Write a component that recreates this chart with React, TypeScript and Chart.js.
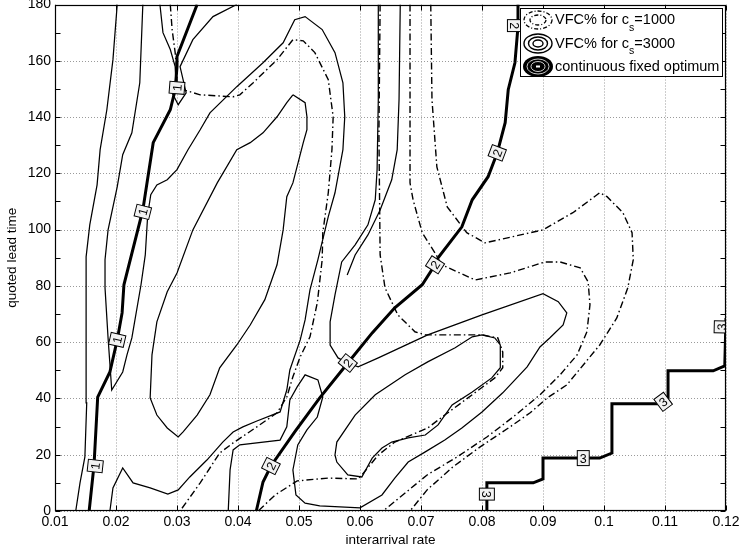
import React, { useEffect, useRef } from 'react';
import { Chart, registerables } from 'chart.js';

Chart.register(...registerables);

// ---------- axes ----------
const xTickValues = [0.01, 0.02, 0.03, 0.04, 0.05, 0.06, 0.07, 0.08, 0.09, 0.1, 0.11, 0.12];
const yTickValues = [0, 20, 40, 60, 80, 100, 120, 140, 160, 180];
const yMinorTickValues = [10, 30, 50, 70, 90, 110, 130, 150, 170];
const xTitle = 'interarrival rate';
const yTitle = 'quoted lead time';

// ---------- VFC% for cs=3000 (solid contours) ----------
const vfc3000Left = [
  [0.0134, 0], [0.0141, 10], [0.0149, 19.2], [0.0152, 38.4], [0.0151, 57.2], [0.0151, 90.3],
  [0.0157, 101.7], [0.0169, 115.9], [0.0174, 128.4], [0.0185, 142.6], [0.0195, 160.4], [0.0202, 180],
];
const vfc3000Outer = [
  [0.0244, 180], [0.0239, 152.2], [0.0226, 134.4], [0.0211, 126.6], [0.0202, 115.2], [0.0187, 99.9],
  [0.0182, 89.3], [0.0182, 79.3], [0.0187, 61.5], [0.0193, 43], [0.0211, 49.4], [0.0218, 55.5],
  [0.0226, 61.5], [0.0241, 80.4], [0.0248, 91], [0.0252, 105.3], [0.0257, 112.4], [0.0267, 115.9],
  [0.0284, 117.7], [0.03, 121.3], [0.0318, 128.4], [0.0338, 135.5], [0.0354, 141.5], [0.0398, 150.8],
  [0.0441, 159.3], [0.0474, 166.4], [0.0493, 174.6], [0.051, 175.7], [0.0538, 171.1], [0.0559, 162.9],
  [0.0572, 152.2], [0.0575, 140.1], [0.0572, 128.4], [0.0559, 113.1], [0.0548, 104.6], [0.0531, 89.3],
  [0.0518, 78.6], [0.051, 67.9], [0.0502, 60.8], [0.0485, 50.1], [0.048, 43], [0.0469, 35.2],
  [0.0431, 32], [0.0408, 29.9], [0.0392, 28.1], [0.0375, 24.5], [0.0349, 18.1], [0.0321, 12.1],
  [0.0302, 7.5], [0.0285, 6], [0.0256, 8.2], [0.0228, 10], [0.0211, 15.3], [0.0195, 8.2], [0.019, 0],
];
const vfc3000Island = [
  [0.049, 147.9], [0.051, 145.1], [0.0513, 140.1], [0.0513, 135.5], [0.0507, 130.9], [0.049, 116.6],
  [0.048, 111.7], [0.0474, 99.9], [0.0464, 87.5], [0.0444, 75.1], [0.042, 66.1], [0.0398, 59],
  [0.037, 50.9], [0.0354, 41.3], [0.0333, 34.1], [0.031, 28.1], [0.0302, 26.3], [0.0284, 29.5],
  [0.0267, 34.1], [0.0256, 40.2], [0.0259, 55.5], [0.0267, 67.2], [0.0284, 77.9], [0.03, 84.6],
  [0.0326, 99.9], [0.0366, 116.6], [0.0398, 128.4], [0.042, 130.9], [0.0441, 134.4], [0.0464, 140.1],
  [0.048, 145.1], [0.049, 147.9],
];
const vfc3000Narrow = [
  [0.0272, 180], [0.0277, 170], [0.0289, 164], [0.0297, 157.9], [0.0298, 153.3], [0.0292, 148.6],
  [0.0302, 144.4], [0.0315, 148.6], [0.0305, 157.9], [0.0326, 167.5], [0.0359, 175.7], [0.0398, 180],
];
const vfc3000Lower = [
  [0.063, 180], [0.063, 146.2], [0.0628, 121.3], [0.0625, 110.6], [0.0613, 101.7], [0.0592, 94.6],
  [0.057, 88.5], [0.0559, 76.8], [0.0551, 67.2], [0.0551, 59], [0.0564, 54.4], [0.058, 52.6],
  [0.0597, 51.2], [0.063, 54.4], [0.0711, 62.6], [0.08, 69.7], [0.09, 77.2], [0.0925, 74.4],
  [0.0939, 70.4], [0.0933, 66.1], [0.0911, 61.5], [0.0895, 58.3], [0.0874, 51.2], [0.0834, 42],
  [0.08, 35.2], [0.0767, 29.5], [0.0739, 25.2], [0.0707, 21], [0.0679, 17.4], [0.0657, 11.7],
  [0.0636, 5.7], [0.06, 1.1], [0.0534, 1.8], [0.051, 2.8], [0.0495, 5.7], [0.049, 14.6],
  [0.0498, 23.5], [0.0513, 28.8], [0.053, 33.4], [0.0539, 40.5], [0.0531, 46.6], [0.051, 48.4],
  [0.0497, 44.1], [0.0485, 39.5], [0.048, 29.9], [0.0469, 25.2], [0.0403, 23.5], [0.0392, 21.7],
  [0.0387, 14.6], [0.0384, 0],
];
const vfc3000Upper = [
  [0.0666, 180], [0.0664, 146.2], [0.0661, 128.4], [0.0652, 117.7], [0.0633, 107], [0.0613, 98.1],
  [0.0592, 91], [0.0579, 83.9],
];
const vfc3000Core = [
  [0.0559, 19.9], [0.0562, 24.5], [0.0592, 34.1], [0.0625, 41.3], [0.0674, 48.4], [0.0711, 53],
  [0.0756, 58], [0.0784, 61.9], [0.08, 62.6], [0.0821, 61.5], [0.083, 59], [0.083, 50.9],
  [0.0816, 47.3], [0.0784, 42.3], [0.0751, 37.7], [0.0728, 30.6], [0.0707, 27], [0.0679, 26],
  [0.0652, 24.5], [0.0636, 22.4], [0.062, 18.8], [0.0603, 12.1], [0.058, 12.8], [0.0562, 17.4],
  [0.0559, 19.9],
];

// ---------- VFC% for cs=1000 (dash-dot contours) ----------
const vfc1000Inner = [
  [0.0289, 180], [0.0292, 171.1], [0.0297, 162.9], [0.03, 155], [0.03, 150.4], [0.0338, 147.9],
  [0.0392, 147.2], [0.0403, 147.9], [0.0425, 152.2], [0.0464, 160.4], [0.049, 167.5], [0.0507, 167.1],
  [0.0526, 162.9], [0.0548, 153.3], [0.0556, 140.1], [0.0554, 128.4], [0.0548, 113.1], [0.0539, 98.9],
  [0.0538, 89.3], [0.053, 74], [0.0518, 61.9], [0.0502, 54.8], [0.049, 47.7], [0.048, 40.5],
  [0.0464, 34.9], [0.0431, 29.9], [0.0392, 24.2], [0.037, 20.6], [0.0338, 10], [0.0305, 0],
];
const vfc1000Valley = [
  [0.0633, 180], [0.0631, 134.4], [0.0633, 91], [0.0641, 79.3], [0.0662, 69.7], [0.069, 63.7],
  [0.0707, 62.6], [0.08, 62.6], [0.0826, 61.5], [0.0834, 56.5], [0.0834, 50.9], [0.0821, 47.3],
  [0.0777, 40.2], [0.0739, 34.1], [0.0711, 29.5], [0.0657, 24.5], [0.063, 19.9], [0.0603, 12.8],
  [0.0597, 11.4], [0.0548, 11.7], [0.0497, 10.7], [0.0461, 5.7], [0.0433, 0],
];
const vfc1000Middle = [
  [0.0682, 180], [0.0682, 146.2], [0.0682, 116.6], [0.0687, 110.6], [0.0702, 98.9], [0.0723, 91.7],
  [0.0734, 87.5], [0.0789, 82.1], [0.0846, 84.6], [0.0903, 88.5], [0.0928, 88.5], [0.0961, 86.4],
  [0.0974, 81.4], [0.0977, 73.3], [0.0972, 63.7], [0.0956, 55.5], [0.0928, 48.4], [0.0895, 41.3],
  [0.0851, 33.4], [0.0808, 26.3], [0.0759, 19.2], [0.071, 12.8], [0.0674, 6.4], [0.0638, 0],
];
const vfc1000Outer = [
  [0.0716, 180], [0.0718, 146.2], [0.0726, 122.3], [0.0743, 108.1], [0.0775, 98.9], [0.0805, 95.3],
  [0.09, 99.9], [0.0949, 106], [0.0993, 113.1], [0.1005, 111.7], [0.1031, 106], [0.1046, 98.9],
  [0.1048, 89.3], [0.1039, 79.3], [0.1021, 68.6], [0.0993, 59], [0.0966, 51.9], [0.0939, 44.8],
  [0.0907, 40.2], [0.0879, 34.9], [0.0846, 29.9], [0.0797, 22.8], [0.0752, 15.6], [0.071, 7.5],
  [0.0682, 0],
];

// ---------- continuous fixed optimum (thick) ----------
const optimum1 = [
  [0.0156, 0], [0.0164, 16.4], [0.017, 40.5], [0.019, 49.4], [0.0202, 60.8], [0.021, 70.4],
  [0.0213, 80.4], [0.0244, 107], [0.0261, 130.9], [0.0289, 142.6], [0.0297, 149.7], [0.03, 157.9],
  [0.03, 161.5], [0.0333, 180],
];
const optimum2 = [
  [0.043, 0], [0.0441, 10.3], [0.0454, 16], [0.0493, 28.1], [0.0534, 40.2], [0.058, 52.6],
  [0.062, 63.3], [0.0657, 72.2], [0.0702, 80.4], [0.0723, 87.5], [0.0728, 90], [0.0767, 101],
  [0.0784, 110.6], [0.081, 118.8], [0.0825, 127.3], [0.0838, 138], [0.0843, 149.7], [0.0854, 159.3],
  [0.0859, 172.1], [0.0859, 180],
];
const optimum3 = [
  [0.0808, 0], [0.0808, 10], [0.0884, 10], [0.09, 11.4], [0.09, 18.8], [0.0993, 18.8],
  [0.1013, 20.6], [0.1013, 38.1], [0.1092, 38.1], [0.1105, 40.2], [0.1105, 49.8], [0.1179, 49.8],
  [0.1198, 51.6], [0.12, 68.6],
];

// contour labels: [x, y, text]
const contourLabels: [number, number, string][] = [
  [0.0166, 16, '1'], [0.0202, 60.8, '1'], [0.0244, 106.3, '1'], [0.03, 150.4, '1'],
  [0.0454, 16, '2'], [0.058, 52.6, '2'], [0.0723, 87.5, '2'], [0.0825, 127.3, '2'], [0.0854, 172.5, '2'],
  [0.0808, 6, '3'], [0.0966, 18.8, '3'], [0.1097, 38.8, '3'], [0.1193, 65.4, '3'],
];

const legendItems = [
  { pre: 'VFC% for c', sub: 's', post: '=1000', icon: 'dash' },
  { pre: 'VFC% for c', sub: 's', post: '=3000', icon: 'solid' },
  { pre: 'continuous fixed optimum', sub: '', post: '', icon: 'thick' },
];

const FONT = '"Liberation Sans", Arial, Helvetica, sans-serif';
const DASHDOT = [7, 3, 1.5, 3];

function toPts(arr: number[][]) {
  return arr.map(([x, y]) => ({ x, y }));
}

export default function App() {
  const ref = useRef<HTMLCanvasElement | null>(null);

  useEffect(() => {
    if (!ref.current) return;
    const thin = (d: number[][]) => ({
      data: toPts(d), showLine: true, borderColor: '#000', borderWidth: 1.25, pointRadius: 0, tension: 0, fill: false,
    });
    const dashed = (d: number[][]) => ({ ...thin(d), borderDash: DASHDOT, borderWidth: 1.4 });
    const thick = (d: number[][]) => ({ ...thin(d), borderWidth: 3, borderJoinStyle: 'miter' as const });

    const optLines = [optimum1, optimum2, optimum3];

    const decor = {
      id: 'decor',
      beforeDatasetsDraw(chart: any) {
        const { ctx, chartArea: a, scales } = chart;
        ctx.save();
        ctx.strokeStyle = '#9a9a9a';
        ctx.lineWidth = 1;
        ctx.setLineDash([1, 2]);
        xTickValues.forEach((v) => {
          const px = Math.round(scales.x.getPixelForValue(v)) + 0.5;
          ctx.beginPath(); ctx.moveTo(px, a.top); ctx.lineTo(px, a.bottom); ctx.stroke();
        });
        yTickValues.forEach((v) => {
          const py = Math.round(scales.y.getPixelForValue(v)) + 0.5;
          ctx.beginPath(); ctx.moveTo(a.left, py); ctx.lineTo(a.right, py); ctx.stroke();
        });
        ctx.restore();
      },
      afterDatasetsDraw(chart: any) {
        const { ctx, chartArea: a, scales } = chart;
        ctx.save();
        ctx.beginPath(); ctx.rect(a.left, a.top, a.right - a.left, a.bottom - a.top); ctx.clip();
        contourLabels.forEach(([x, y, t]) => {
          const px = scales.x.getPixelForValue(x);
          const py = scales.y.getPixelForValue(y);
          const line = optLines[Number(t) - 1];
          let best = Infinity; let ang = 0;
          for (let i = 0; i < line.length - 1; i++) {
            const x1 = scales.x.getPixelForValue(line[i][0]); const y1 = scales.y.getPixelForValue(line[i][1]);
            const x2 = scales.x.getPixelForValue(line[i + 1][0]); const y2 = scales.y.getPixelForValue(line[i + 1][1]);
            const dx = x2 - x1; const dy = y2 - y1;
            const L = dx * dx + dy * dy || 1;
            let u = ((px - x1) * dx + (py - y1) * dy) / L; u = Math.max(0, Math.min(1, u));
            const qx = x1 + u * dx - px; const qy = y1 + u * dy - py;
            const d = qx * qx + qy * qy;
            if (d < best) { best = d; ang = Math.atan2(dy, dx); }
          }
          if (ang <= -Math.PI / 2 - 1e-6) ang += Math.PI;
          if (ang > Math.PI / 2 + 1e-6) ang -= Math.PI;
          if (Math.abs(ang + Math.PI / 2) < 1e-6) ang = Math.PI / 2;
          ctx.save();
          ctx.translate(px, py);
          ctx.rotate(ang);
          ctx.font = `12.5px ${FONT}`;
          const w = ctx.measureText(t).width + 5;
          const h = 15;
          ctx.fillStyle = '#f2f2f2';
          ctx.fillRect(-w / 2, -h / 2, w, h);
          ctx.strokeStyle = '#000'; ctx.lineWidth = 1; ctx.setLineDash([]);
          ctx.strokeRect(-w / 2, -h / 2, w, h);
          ctx.fillStyle = '#000'; ctx.textAlign = 'center'; ctx.textBaseline = 'middle';
          ctx.fillText(t, 0, 1);
          ctx.restore();
        });
        ctx.restore();
      },
      afterDraw(chart: any) {
        const { ctx, chartArea: a, scales } = chart;
        ctx.save();
        ctx.strokeStyle = '#000'; ctx.lineWidth = 1; ctx.setLineDash([]);
        const L = Math.round(a.left) + 0.5, R = Math.round(a.right) - 0.5;
        const T = Math.round(a.top) + 0.5, B = Math.round(a.bottom) - 0.5;
        xTickValues.forEach((v) => {
          const px = Math.round(scales.x.getPixelForValue(v)) + 0.5;
          ctx.beginPath(); ctx.moveTo(px, B); ctx.lineTo(px, B - 5); ctx.moveTo(px, T); ctx.lineTo(px, T + 5); ctx.stroke();
        });
        [...yTickValues, ...yMinorTickValues].forEach((v) => {
          const py = Math.round(scales.y.getPixelForValue(v)) + 0.5;
          ctx.beginPath(); ctx.moveTo(L, py); ctx.lineTo(L + 5, py); ctx.moveTo(R, py); ctx.lineTo(R - 5, py); ctx.stroke();
        });
        ctx.lineWidth = 1.2;
        ctx.strokeRect(L, T, R - L, B - T);

        // axis titles
        ctx.fillStyle = '#000';
        ctx.font = `13.5px ${FONT}`;
        ctx.textAlign = 'center'; ctx.textBaseline = 'middle';
        ctx.fillText(xTitle, (a.left + a.right) / 2, 540);
        ctx.save();
        ctx.translate(12, (a.top + a.bottom) / 2);
        ctx.rotate(-Math.PI / 2);
        ctx.fillText(yTitle, 0, 0);
        ctx.restore();

        // legend
        const lx = 520.5, ly = 8.5, lw = 202, lh = 68;
        ctx.fillStyle = '#fff';
        ctx.fillRect(lx, ly, lw, lh);
        ctx.strokeStyle = '#000'; ctx.lineWidth = 1;
        ctx.strokeRect(lx, ly, lw, lh);
        const rows = [20, 43.5, 66.5];
        legendItems.forEach((it, i) => {
          const cy = rows[i];
          const cx = 538;
          ctx.save();
          if (it.icon === 'dash') {
            ctx.setLineDash([4, 2, 1, 2]); ctx.lineWidth = 1.3; ctx.strokeStyle = '#000';
            [[14, 9], [8, 5]].forEach(([rx, ry]) => { ctx.beginPath(); ctx.ellipse(cx, cy, rx, ry, 0, 0, Math.PI * 2); ctx.stroke(); });
          } else if (it.icon === 'solid') {
            ctx.lineWidth = 1.4; ctx.strokeStyle = '#000';
            [[14, 9.5], [9.5, 6.5], [5, 3.5]].forEach(([rx, ry]) => { ctx.beginPath(); ctx.ellipse(cx, cy, rx, ry, 0, 0, Math.PI * 2); ctx.stroke(); });
          } else {
            ctx.fillStyle = '#000';
            ctx.beginPath(); ctx.ellipse(cx, cy, 15, 10.5, 0, 0, Math.PI * 2); ctx.fill();
            ctx.strokeStyle = '#fff'; ctx.lineWidth = 0.8;
            [[11, 7.5], [7, 5]].forEach(([rx, ry]) => { ctx.beginPath(); ctx.ellipse(cx, cy, rx, ry, 0, 0, Math.PI * 2); ctx.stroke(); });
            ctx.fillStyle = '#fff'; ctx.fillRect(cx - 2, cy - 1, 4, 2);
          }
          ctx.restore();
          ctx.fillStyle = '#000'; ctx.textAlign = 'left'; ctx.textBaseline = 'middle';
          ctx.font = `14.5px ${FONT}`;
          let tx = 555;
          ctx.fillText(it.pre, tx, cy);
          tx += ctx.measureText(it.pre).width;
          if (it.sub) {
            ctx.font = `10.5px ${FONT}`;
            ctx.fillText(it.sub, tx, cy + 8);
            tx += ctx.measureText(it.sub).width;
            ctx.font = `14.5px ${FONT}`;
            ctx.fillText(it.post, tx, cy);
          }
        });
        ctx.restore();
      },
    };

    const chart = new Chart(ref.current, {
      type: 'scatter',
      data: {
        datasets: [
          thin(vfc3000Left), thin(vfc3000Outer), thin(vfc3000Island), thin(vfc3000Narrow),
          thin(vfc3000Lower), thin(vfc3000Upper), thin(vfc3000Core),
          dashed(vfc1000Inner), dashed(vfc1000Valley), dashed(vfc1000Middle), dashed(vfc1000Outer),
          thick(optimum1), thick(optimum2), thick(optimum3),
        ] as any,
      },
      options: {
        animation: false,
        responsive: false,
        devicePixelRatio: 1,
        layout: { padding: { top: 4.5, right: 15, left: 0, bottom: 0 } },
        plugins: { legend: { display: false }, tooltip: { enabled: false } },
        events: [],
        scales: {
          x: {
            type: 'linear', min: 0.01, max: 0.12,
            afterBuildTicks: (s: any) => { s.ticks = xTickValues.map((v) => ({ value: v })); },
            afterFit: (s: any) => { s.height = 37; s.paddingLeft = 0; s.paddingRight = 0; },
            ticks: {
              color: '#000', font: { family: FONT, size: 14 }, padding: 3, maxRotation: 0, autoSkip: false,
              callback: (v: any) => String(parseFloat(Number(v).toFixed(2))),
            },
            grid: { display: false, drawTicks: false },
            border: { display: false },
          },
          y: {
            type: 'linear', min: 0, max: 180,
            afterBuildTicks: (s: any) => { s.ticks = yTickValues.map((v) => ({ value: v })); },
            afterFit: (s: any) => { s.width = 55; s.paddingTop = 0; s.paddingBottom = 0; },
            ticks: { color: '#000', font: { family: FONT, size: 14 }, padding: 4, autoSkip: false },
            grid: { display: false, drawTicks: false },
            border: { display: false },
          },
        },
      },
      plugins: [decor],
    });
    return () => chart.destroy();
  }, []);

  return (
    <div style={{ position: 'fixed', left: 0, top: 0, width: 741, height: 548, background: '#fff' }}>
      <canvas ref={ref} width={741} height={548} style={{ display: 'block' }} />
    </div>
  );
}
